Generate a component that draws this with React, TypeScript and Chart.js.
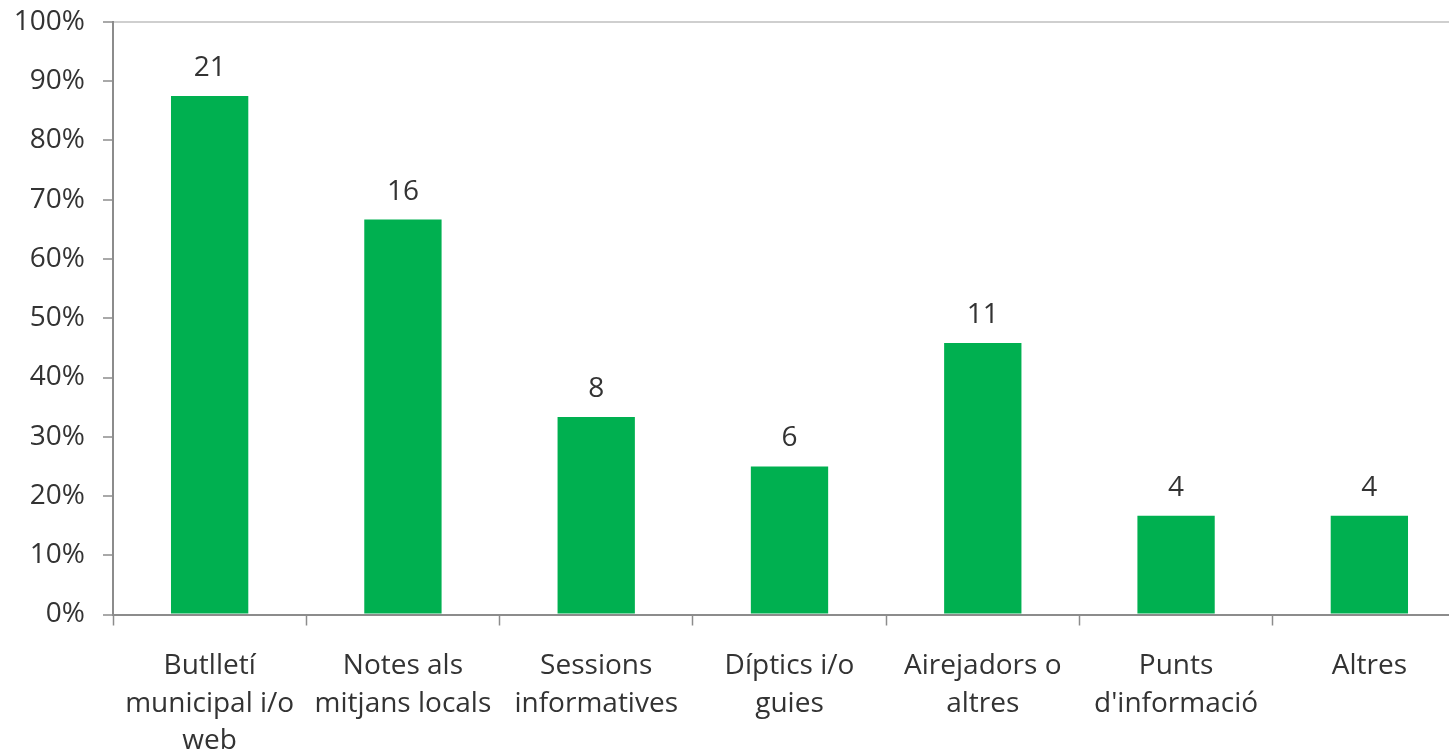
import React, { useEffect, useRef } from "react";
import { Chart, registerables } from "chart.js";

Chart.register(...registerables);

const categories: string[][] = [
  ["Butlletí", "municipal i/o", "web"],
  ["Notes als", "mitjans locals"],
  ["Sessions", "informatives"],
  ["Díptics i/o", "guies"],
  ["Airejadors o", "altres"],
  ["Punts", "d'informació"],
  ["Altres"],
];
const counts: number[] = [21, 16, 8, 6, 11, 4, 4];
const totalResponses = 24;
const shares: number[] = counts.map((c) => c / totalResponses);
const yTicks: number[] = [0, 0.1, 0.2, 0.3, 0.4, 0.5, 0.6, 0.7, 0.8, 0.9, 1];

const FONT = "'Open Sans', Lato, sans-serif";
const FONT_SIZE = 28;
const TEXT = "#333333";
const AXIS = "#8c8c8c";
const BAR = "#00B050";

const countLabels = {
  id: "countLabels",
  afterDatasetsDraw(chart: any) {
    const { ctx } = chart;
    const meta = chart.getDatasetMeta(0);
    ctx.save();
    ctx.font = `${FONT_SIZE}px ${FONT}`;
    ctx.fillStyle = TEXT;
    ctx.textAlign = "center";
    ctx.textBaseline = "alphabetic";
    meta.data.forEach((bar: any, i: number) => {
      ctx.fillText(String(counts[i]), bar.x, bar.y - 20);
    });
    ctx.restore();
  },
};

export default function App() {
  const ref = useRef<HTMLCanvasElement | null>(null);

  useEffect(() => {
    if (!ref.current) return;
    const chart = new Chart(ref.current, {
      type: "bar",
      data: {
        labels: categories,
        datasets: [
          {
            data: shares,
            backgroundColor: BAR,
            borderWidth: 0,
            barPercentage: 0.8,
            categoryPercentage: 0.5,
          },
        ],
      },
      options: {
        responsive: false,
        animation: false,
        layout: { padding: { top: 22, right: 14, left: 0, bottom: 0 } },
        plugins: {
          legend: { display: false },
          tooltip: { enabled: false },
        },
        scales: {
          x: {
            offset: true,
            grid: {
              offset: true,
              drawOnChartArea: false,
              drawTicks: true,
              tickLength: 11,
              tickColor: AXIS,
              tickWidth: 1.5,
            },
            border: { color: AXIS, width: 2 },
            ticks: {
              color: TEXT,
              font: { family: FONT, size: FONT_SIZE, lineHeight: 1.34 },
              padding: 22,
              maxRotation: 0,
              autoSkip: false,
            },
            afterFit(scale: any) {
              scale.height = 141.5;
              scale.paddingLeft = 0;
              scale.paddingRight = 0;
            },
          },
          y: {
            min: 0,
            max: 1,
            afterBuildTicks(scale: any) {
              scale.ticks = yTicks.map((v) => ({ value: v }));
            },
            grid: {
              drawOnChartArea: true,
              color: (c: any) => (c.tick && c.tick.value === 1 ? "#cfcfcf" : "rgba(0,0,0,0)"),
              lineWidth: 2,
              tickLength: 10,
              tickColor: AXIS,
              tickWidth: 1.5,
            },
            border: { color: AXIS, width: 2 },
            ticks: {
              color: TEXT,
              font: { family: FONT, size: FONT_SIZE },
              padding: 18,
              callback: (v: any) => `${Math.round(Number(v) * 100)}%`,
            },
            afterFit(scale: any) {
              scale.width = 113;
              scale.paddingTop = 0;
              scale.paddingBottom = 0;
            },
          },
        },
      },
      plugins: [countLabels],
    });
    return () => chart.destroy();
  }, []);

  return (
    <div
      style={{
        position: "fixed",
        left: 0,
        top: 0,
        width: 1449,
        height: 756,
        overflow: "hidden",
        background: "#fff",
      }}
    >
      <canvas ref={ref} width={1480} height={756} />
    </div>
  );
}
